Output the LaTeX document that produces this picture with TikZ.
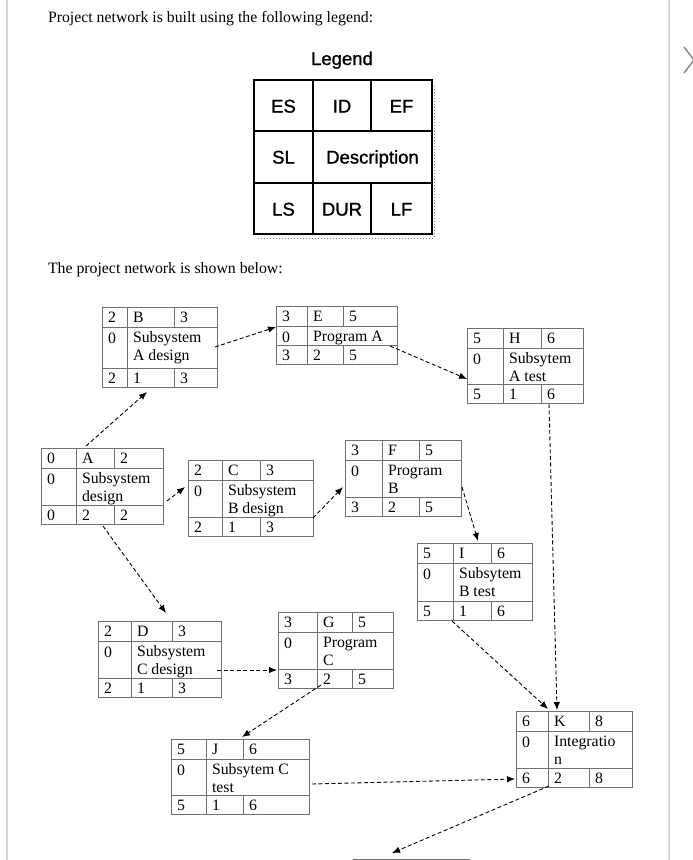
\documentclass[tikz,border=0pt]{standalone}
\usepackage{fontspec}
\setmainfont{Liberation Serif}
\newfontfamily\legendfont[FakeBold=1.2]{Liberation Sans}
\usepackage{tikz}
\usetikzlibrary{arrows.meta}
\definecolor{boxline}{RGB}{112,112,112}
\definecolor{pageline}{RGB}{214,214,214}

\begin{document}
\begin{tikzpicture}[x=1pt, y=-1pt,
    every node/.style={inner sep=0pt, outer sep=0pt},
    txt/.style={font=\fontsize{15.8}{18}\selectfont, anchor=base west},
    actbox/.style={draw=boxline, line width=1pt, anchor=north west},
    lgtxt/.style={font=\legendfont\fontsize{18.5}{20}\selectfont, anchor=base},
    dep/.style={line width=0.9pt, dash pattern=on 4pt off 2.5pt, -{Latex[length=8pt,width=6.5pt]}}]
    \useasboundingbox (0,0) rectangle (693,860);
    % page edges
    \draw[pageline, line width=1.2pt] (7,0) -- (7,860) (669,0) -- (669,860);
    \draw[gray, line width=1.3pt] (684,47) -- (694,60) -- (684,73);
    \node[txt] (intro) at (48,22) {Project network is built using the following legend:};
    \node[txt] (shown) at (48,273) {The project network is shown below:};
    % Legend
    \node[lgtxt] (lgtitle) at (342,65) {Legend};
    \draw[gray, dotted, line width=1pt] (434,86) -- (434,238) -- (258,238);
    \node[draw, line width=2.2pt, minimum width=178pt, minimum height=154pt, anchor=north west] (legend) at (254,80) {};
    \draw[line width=1.5pt] (254,131) -- (432,131) (254,183) -- (432,183)
        (313,80) -- (313,234) (371,80) -- (371,131) (371,183) -- (371,234);
    \foreach \t/\cx/\cy in {ES/283.5/106, ID/342/106, EF/401.5/106, SL/283.5/157,
        Description/372.5/157, LS/283.5/209, DUR/342/209, LF/401.5/209}
        \node[lgtxt] (lg-\t) at (\cx,\cy+6.6) {\t};
    % Activities
    \foreach \n/\x/\y/\w/\h/\ca/\cb/\es/\ef/\sl/\desc/\ls/\dur/\lf in {
        A/41/448/122/76/35/73/0/2/0/{Subsystem\\design}/0/2/2,
        B/102/307/115/80/25/72/2/3/0/{Subsystem\\A design}/2/1/3,
        C/188/460/125/76/34/72/2/3/0/{Subsystem\\B design}/2/1/3,
        D/98/621/123/76/33/74/2/3/0/{Subsystem\\C design}/2/1/3,
        E/276/306/121/58/31/67/3/5/0/{Program A}/3/2/5,
        F/345/440/116/76/37/74/3/5/0/{Program\\B}/3/2/5,
        G/278/612/115/76/39/74/3/5/0/{Program\\C}/3/2/5,
        H/467/328/116/75/36/74/5/6/0/{Subsytem\\A test}/5/1/6,
        I/417/543/115/77/36/74/5/6/0/{Subsytem\\B test}/5/1/6,
        J/171/739/138/75/35/72/5/6/0/{Subsytem C\\test}/5/1/6,
        K/516/711/116/76/32/73/6/8/0/{Integratio\\n}/6/2/8} {
        \node[actbox, minimum width=\w pt, minimum height=\h pt] (\n) at (\x,\y) {};
        \draw[boxline, line width=1pt] (\x,\y+20) -- (\x+\w,\y+20) (\x,\y+\h-19) -- (\x+\w,\y+\h-19)
            (\x+\ca,\y) -- (\x+\ca,\y+\h) (\x+\cb,\y) -- (\x+\cb,\y+20) (\x+\cb,\y+\h-19) -- (\x+\cb,\y+\h);
        \node[txt] (\n-es) at (\x+6,\y+15.5) {\es};
        \node[txt] (\n-id) at (\x+\ca+6,\y+15.5) {\n};
        \node[txt] (\n-ef) at (\x+\cb+6,\y+15.5) {\ef};
        \node[txt] (\n-sl) at (\x+6,\y+36) {\sl};
        \node[txt, anchor=north west, align=left] (\n-desc) at (\x+\ca+6,\y+23) {\strut\desc};
        \node[txt] (\n-ls) at (\x+6,\y+\h-3.5) {\ls};
        \node[txt] (\n-dur) at (\x+\ca+6,\y+\h-3.5) {\dur};
        \node[txt] (\n-lf) at (\x+\cb+6,\y+\h-3.5) {\lf};
    }
    % next activity, cut off by the page
    \node[anchor=north west, minimum width=117pt, minimum height=20pt] (L) at (353,859) {};
    \draw[boxline, line width=1pt] (L.north west) -- (L.north east);
    % Dependencies
    \draw[dep] ([xshift=-2pt]B.east) -- ([yshift=8pt]E.west);
    \draw[dep] ([xshift=-7pt,yshift=-11pt]E.east) -- ([yshift=-13.5pt]H.west);
    \draw[dep] ([xshift=-16pt,yshift=2pt]A.north) -- ([xshift=-12.5pt,yshift=-5pt]B.south);
    \draw[dep] ([xshift=4pt,yshift=-15pt]A.east) -- ([xshift=-3pt,yshift=11pt]C.west);
    \draw[dep] ([xshift=1pt,yshift=-2pt]A.south) -- ([xshift=6.5pt,yshift=8pt]D.north);
    \draw[dep] ([yshift=-20pt]C.east) -- ([xshift=-2pt,yshift=-9pt]F.west);
    \draw[dep] ([xshift=1pt,yshift=-9pt]F.east) -- ([xshift=3.5pt,yshift=2pt]I.north);
    \draw[dep] ([xshift=24pt,yshift=-1pt]H.south) -- ([xshift=-17pt,yshift=1pt]K.north);
    \draw[dep] ([xshift=-22.5pt,yshift=-1pt]I.south) -- ([xshift=-26pt,yshift=2pt]K.north);
    \draw[dep] ([xshift=-4pt,yshift=-11pt]D.east) -- ([xshift=-1pt,yshift=-20pt]G.west);
    \draw[dep] ([xshift=-14.5pt,yshift=3pt]G.south) -- ([xshift=2pt,yshift=2pt]J.north);
    \draw[dep] ([xshift=3pt,yshift=-7.5pt]J.east) -- ([xshift=-1pt,yshift=-30pt]K.west);
    \draw[dep] ([xshift=-25pt,yshift=1pt]K.south) -- ([xshift=-19.5pt,yshift=6pt]L.north);
\end{tikzpicture}
\end{document}
